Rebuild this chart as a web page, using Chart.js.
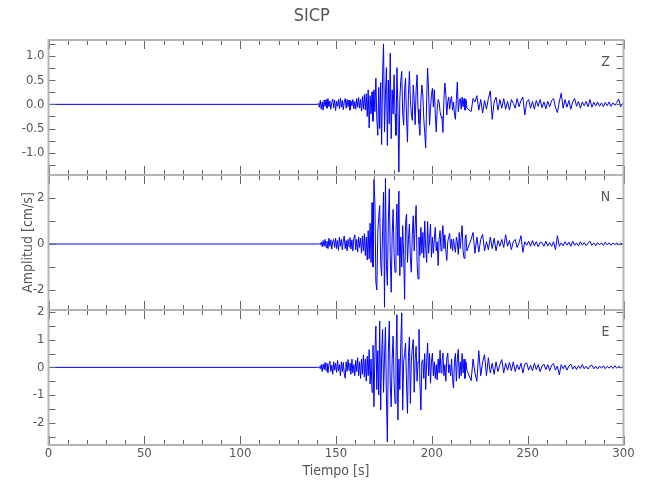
<!DOCTYPE html>
<html>
<head>
<meta charset="utf-8">
<script src="https://cdn.jsdelivr.net/npm/chart.js@4.4.0/dist/chart.umd.min.js"></script>
<style>
  html, body { margin: 0; padding: 0; background: #fff; }
  #wrap { position: relative; width: 650px; height: 500px; }
  #wrap canvas { position: absolute; left: 0; }
</style>
</head>
<body>
<div id="wrap">
  <canvas id="chartZ" width="650" height="180" style="top:0"></canvas>
  <canvas id="chartN" width="650" height="145" style="top:170px"></canvas>
  <canvas id="chartE" width="650" height="200" style="top:300px"></canvas>
</div>
<script>
// ===== Data =====
// sampling of the traces (s)
const earlyStart = 140.3, earlyStep = 0.5;
const lateStart = 220.5, lateStep = 1;

const xLabelTicks = [0, 50, 100, 150, 200, 250, 300];
const xMinorTicks = [0, 10, 20, 30, 40, 50, 60, 70, 80, 90, 100, 110, 120, 130, 140, 150,
  160, 170, 180, 190, 200, 210, 220, 230, 240, 250, 260, 270, 280, 290, 300];

const zLabelTicks = [-1, -0.5, 0, 0.5, 1];
const zMinorTicks = [-1.25, -1, -0.75, -0.5, -0.25, 0, 0.25, 0.5, 0.75, 1, 1.25];
const nLabelTicks = [-2, 0, 2];
const nMinorTicks = [-2, -1, 0, 1, 2];
const eLabelTicks = [-2, -1, 0, 1, 2];
const eMinorTicks = [-2.5, -2, -1.5, -1, -0.5, 0, 0.5, 1, 1.5, 2];

const zEarly = [
  0, 0.02, -0.06, 0.08, -0.1, 0.05, -0.12, 0.09, -0.04, 0.1,
  -0.08, 0.12, -0.05, 0.07, -0.1, 0.04, 0.11, -0.07, 0.09, -0.13,
  0.06, -0.04, 0.1, -0.09, 0.13, -0.06, 0.08, -0.11, 0.05, 0.12,
  -0.08, 0.1, -0.05, 0.09, -0.12, 0.07, -0.03, 0.1, -0.09, 0.06,
  -0.1, 0.12, -0.06, 0.14, -0.08, 0.1, -0.14, 0.16, -0.1, 0.2,
  -0.12, 0.22, -0.25, 0.3, -0.49, 0.18, -0.2, 0.26, -0.35, 0.3,
  -0.15, 0.54, -0.3, -0.64, 0.35, -0.5, 0.45, -0.83, 0.6, 1.25,
  -0.57, 0.2, 0.76, -0.85, 0.5, -0.4, 1.06, -0.71, 0.3, -0.2,
  0.61, -0.2, -0.64, 0.76, -0.1, -1.4, 0.1, 0.5, 0.68, -0.2,
  -0.43, 0.3, 0.54, -0.3, -0.78, 0.2, 0.68, 0.1, -0.2, -0.33,
  0.4, 0.1, -0.42, 0.3, 0.61, -0.1, -0.4, -0.64, 0.1, 0.4,
  0.2, -0.3, -0.6, -0.9, 0.1, 0.75, 0.3, -0.43, -0.1, 0.2,
  0.33, -0.05, 0.3, -0.2, -0.57, -0.1, 0.1, 0.05, -0.15, -0.25,
  -0.29, -0.58, 0.1, 0.44, 0.2, -0.22, 0.05, 0.15, -0.1, 0.1,
  0.16, -0.12, 0.05, -0.2, -0.31, 0.1, 0.46, -0.15, 0.05, 0.12,
  -0.1, 0.15, -0.05, 0.12, -0.12, 0.1, -0.08
];
const zLate = [
  -0.15, 0.12, 0.05, 0.18, -0.12, 0.1, -0.18, 0.08, -0.1, 0.12,
  0.28, -0.31, 0.05, 0.15, -0.12, 0.1, -0.08, 0.12, -0.1, 0.06,
  -0.12, 0.1, 0.02, -0.08, 0.12, -0.05, 0.08, 0.15, -0.22, 0.05,
  0.1, -0.08, 0.06, -0.1, 0.08, -0.04, 0.1, -0.07, 0.05, -0.09,
  0.06, -0.05, 0.08, 0.12, -0.06, -0.17, 0.05, 0.23, -0.08, 0.1,
  -0.06, 0.08, -0.1, 0.05, 0.12, -0.04, 0.06, -0.08, 0.05, -0.03,
  0.06, -0.05, 0.1, -0.06, 0.04, -0.03, 0.05, -0.04, 0.03, -0.05,
  0.04, -0.03, 0.05, -0.04, 0.03, -0.02, 0.04, 0.11, -0.05, 0.02
];

const nEarly = [
  0, 0, 0.02, -0.03, 0.08, -0.12, 0.15, -0.1, 0.2, -0.15,
  0.12, -0.2, 0.25, -0.1, 0.18, -0.22, 0.1, 0.2, -0.15, 0.25,
  -0.2, 0.15, -0.28, 0.3, -0.1, 0.2, -0.25, 0.12, 0.35, -0.2,
  0.15, -0.3, 0.2, -0.12, 0.28, -0.22, 0.18, -0.3, 0.22, 0.4,
  -0.25, 0.2, -0.35, 0.3, -0.15, 0.25, -0.4, 0.35, -0.3, 0.45,
  -0.5, 0.3, -0.7, 0.58, -0.65, 0.9, -0.8, 1.8, -1.0, 2.8,
  1.8, -1.67, -2.0, 0.5, 1.2, 1.67, -0.8, -1.38, 0.6, 2.25,
  -2.75, 2.85, -0.9, -1.8, 1.0, 2.4, -0.5, -2.1, 0.4, 1.5,
  -0.4, -1.23, 0.6, 1.74, -0.5, 2.3, -1.38, 0.3, -1.0, 0.8,
  -0.5, -2.4, 0.94, 1.3, -0.8, 0.2, 0.87, -0.6, -1.23, 0.4,
  1.23, -0.3, 0.8, 1.67, -0.8, -1.52, 0.3, -0.5, 0.72, -0.4,
  0.5, -0.6, 1.0, -0.2, -0.8, 0.98, -0.4, 0.2, 0.87, -0.58,
  0.3, -0.4, 0.2, 0.72, -0.3, 0.1, -0.94, 0.2, 0.58, -0.3,
  0.3, 0.8, -0.2, 0.4, -0.3, -0.72, 0.1, 0.3, 0.46, -0.2,
  0.2, -0.3, 0.22, -0.1, -0.36, 0.3, 0.1, -0.45, 0.5, -0.2,
  0.3, 0.8, -0.3, -0.62, 0.2, 0.4, -0.3
];
const nLate = [
  0.2, 0.5, -0.4, 0.3, -0.35, 0.2, 0.42, -0.3, 0.1, -0.25,
  0.3, -0.2, 0.25, -0.3, 0.15, -0.1, 0.2, -0.15, 0.4, -0.1,
  0.15, -0.25, 0.1, 0.2, -0.15, 0.05, 0.36, -0.36, 0.1, -0.05,
  0.12, -0.1, 0.15, -0.08, 0.1, -0.12, 0.08, 0.05, -0.1, 0.12,
  -0.08, 0.06, -0.1, 0.1, -0.25, 0.36, -0.1, 0.05, -0.08, 0.1,
  -0.05, 0.08, -0.1, 0.12, -0.06, 0.05, -0.08, 0.1, -0.05, 0.06,
  -0.07, 0.04, 0.12, -0.06, 0.05, -0.08, 0.06, -0.04, 0.05, -0.06,
  0.08, -0.04, 0.05, -0.06, 0.04, -0.03, 0.05, -0.04, 0.03, 0.0
];

const eEarly = [
  0, 0, 0.03, -0.05, 0.1, -0.15, 0.12, -0.08, 0.18, -0.12,
  0.15, -0.2, 0.1, 0.22, -0.15, 0.08, -0.25, 0.2, -0.1, 0.15,
  -0.18, 0.25, -0.12, 0.1, -0.3, 0.2, -0.15, 0.18, -0.22, -0.39,
  0.2, -0.15, 0.28, -0.1, 0.15, -0.25, 0.3, -0.2, 0.1, -0.3,
  0.25, -0.15, 0.35, -0.3, 0.2, -0.4, 0.3, -0.25, 0.45, -0.35,
  0.3, -0.5, 0.4, -0.3, 0.64, -0.6, 0.3, -0.9, 0.8, -1.42,
  0.5, 1.49, -0.8, 0.6, -1.0, 1.67, -1.54, 0.4, 1.37, -0.9,
  0.3, 1.45, -1.0, -2.69, 0.5, 1.67, -0.6, -1.42, 0.3, 1.13,
  -0.5, -1.3, 0.4, 1.9, -1.9, 0.3, -0.8, 0.9, 1.97, -1.54,
  0.2, 0.5, 0.88, -0.6, -1.66, 0.4, 1.1, -1.3, 0.2, 0.7,
  1.0, -0.9, 0.3, 0.76, -0.5, 0.2, 1.37, -0.6, -1.54, 0.2,
  0.28, -0.4, 0.5, -0.8, 0.2, 0.88, -0.3, 0.5, -0.57, 0.2,
  0.52, -0.3, 0.2, -0.4, 0.1, -0.45, 0.3, -0.2, 0.62, -0.2,
  0.2, 0.52, -0.3, 0.1, -0.5, 0.3, 0.52, -0.2, 0.1, -0.3,
  0.3, -0.4, -0.75, 0.2, 0.5, -0.5, 0.3, 0.65, -0.4, 0.2,
  -0.3, 0.5, -0.2, 0.3, -0.4, 0.2, -0.1
];
const eLate = [
  -0.48, 0.3, -0.2, -0.5, 0.6, -0.3, 0.2, 0.46, -0.3, 0.35,
  -0.2, 0.15, -0.25, 0.2, -0.15, 0.1, 0.28, -0.2, 0.15, -0.1,
  0.18, -0.12, 0.2, -0.15, 0.1, -0.08, 0.15, -0.2, 0.12, 0.16,
  -0.1, 0.08, -0.12, 0.15, -0.08, 0.1, -0.15, 0.05, 0.12, -0.08,
  0.1, -0.12, 0.08, 0.14, -0.1, 0.05, -0.27, 0.1, -0.05, 0.08,
  -0.1, 0.05, 0.12, -0.06, 0.05, -0.08, 0.06, -0.04, 0.1, -0.05,
  0.04, -0.06, 0.05, 0.08, -0.05, 0.04, -0.06, 0.05, -0.03, 0.06,
  -0.05, 0.04, -0.03, 0.05, -0.04, 0.06, -0.03, 0.04, -0.02, 0.03
];

// ===== Helpers =====
const FONT = "'Liberation Sans Narrow', 'DejaVu Sans Condensed', 'Liberation Sans', sans-serif";
const TEXT = '#555';
const PLOT_LEFT = 48.5;
const PLOT_RIGHT_PAD = 26.5;

function buildTrace(early, late) {
  const pts = [{ x: 0, y: 0 }];
  early.forEach((v, i) => pts.push({ x: earlyStart + i * earlyStep, y: v }));
  late.forEach((v, i) => pts.push({ x: lateStart + i * lateStep, y: v }));
  return pts;
}

// frame + inward ticks on all four sides, channel letter
const panelFrame = {
  id: 'panelFrame',
  afterDatasetsDraw(chart, args, opts) {
    const { ctx, chartArea: a, scales: { x, y } } = chart;
    ctx.save();
    ctx.strokeStyle = '#666';
    ctx.lineWidth = 1;
    ctx.beginPath();
    xMinorTicks.forEach(v => {
      const px = Math.round(x.getPixelForValue(v)) + 0.5;
      const len = v % 50 === 0 ? 9 : 5;
      ctx.moveTo(px, a.top); ctx.lineTo(px, a.top + len);
      ctx.moveTo(px, a.bottom); ctx.lineTo(px, a.bottom - len);
    });
    opts.yTicks.forEach(v => {
      const py = Math.round(y.getPixelForValue(v)) + 0.5;
      ctx.moveTo(a.left, py); ctx.lineTo(a.left + 7, py);
      ctx.moveTo(a.right, py); ctx.lineTo(a.right - 7, py);
    });
    ctx.stroke();

    ctx.strokeStyle = '#b4b4b4';
    ctx.lineWidth = 2;
    ctx.strokeRect(a.left, a.top, a.right - a.left, a.bottom - a.top);

    ctx.fillStyle = TEXT;
    ctx.font = `14px ${FONT}`;
    ctx.textAlign = 'center';
    ctx.textBaseline = 'middle';
    ctx.fillText(opts.label, a.right - 18, a.top + 22);
    ctx.restore();
  }
};

function makePanel(id, p) {
  return new Chart(document.getElementById(id), {
    type: 'line',
    data: {
      datasets: [{
        data: p.data,
        borderColor: '#0000ff',
        borderWidth: 1,
        pointRadius: 0,
        tension: 0,
        fill: false,
      }]
    },
    options: {
      responsive: false,
      animation: false,
      parsing: false,
      events: [],
      layout: { autoPadding: false, padding: { left: 0, right: PLOT_RIGHT_PAD, top: p.padTop, bottom: p.padBottom } },
      scales: {
        x: {
          type: 'linear',
          min: 0,
          max: 300,
          afterBuildTicks: s => { s.ticks = xLabelTicks.map(v => ({ value: v })); },
          afterFit: s => { s.height = p.showX ? 55 : 0; s.paddingLeft = 0; s.paddingRight = 0; },
          grid: { display: false, drawTicks: false },
          border: { display: false },
          ticks: { display: p.showX, color: TEXT, padding: 1, maxRotation: 0, font: { family: FONT, size: 13 } },
          title: {
            display: p.showX,
            text: 'Tiempo [s]',
            color: TEXT,
            font: { family: FONT, size: 14 },
            padding: { top: 0, bottom: 20 }
          }
        },
        y: {
          type: 'linear',
          min: p.min,
          max: p.max,
          afterBuildTicks: s => { s.ticks = p.labelTicks.map(v => ({ value: v })); },
          afterFit: s => { s.width = PLOT_LEFT; s.paddingTop = 0; s.paddingBottom = 0; },
          grid: { display: false, drawTicks: false },
          border: { display: false },
          ticks: {
            color: TEXT,
            padding: 4,
            font: { family: FONT, size: 13 },
            callback: v => p.decimals ? v.toFixed(1) : String(v)
          },
          title: {
            display: !!p.yTitle,
            text: p.yTitle || '',
            color: TEXT,
            font: { family: FONT, size: 14 },
            padding: { top: 20, bottom: 0 }
          }
        }
      },
      plugins: {
        legend: { display: false },
        tooltip: { enabled: false },
        title: {
          display: !!p.title,
          text: p.title || '',
          color: TEXT,
          font: { family: FONT, size: 18, weight: 'normal' },
          padding: { top: 6, bottom: 12.4 }
        },
        panelFrame: { yTicks: p.minorTicks, label: p.label }
      }
    },
    plugins: [panelFrame]
  });
}

// ===== Panels =====
makePanel('chartZ', {
  data: buildTrace(zEarly, zLate), min: -1.46, max: 1.33,
  labelTicks: zLabelTicks, minorTicks: zMinorTicks, decimals: true,
  label: 'Z', title: 'SICP', padTop: 0, padBottom: 5, showX: false
});

makePanel('chartN', {
  data: buildTrace(nEarly, nLate), min: -2.87, max: 3.0,
  labelTicks: nLabelTicks, minorTicks: nMinorTicks, decimals: false,
  label: 'N', yTitle: 'Amplitud [cm/s]', padTop: 5, padBottom: 5, showX: false
});

makePanel('chartE', {
  data: buildTrace(eEarly, eLate), min: -2.8, max: 2.07,
  labelTicks: eLabelTicks, minorTicks: eMinorTicks, decimals: false,
  label: 'E', padTop: 10, padBottom: 0, showX: true
});
</script>
</body>
</html>
